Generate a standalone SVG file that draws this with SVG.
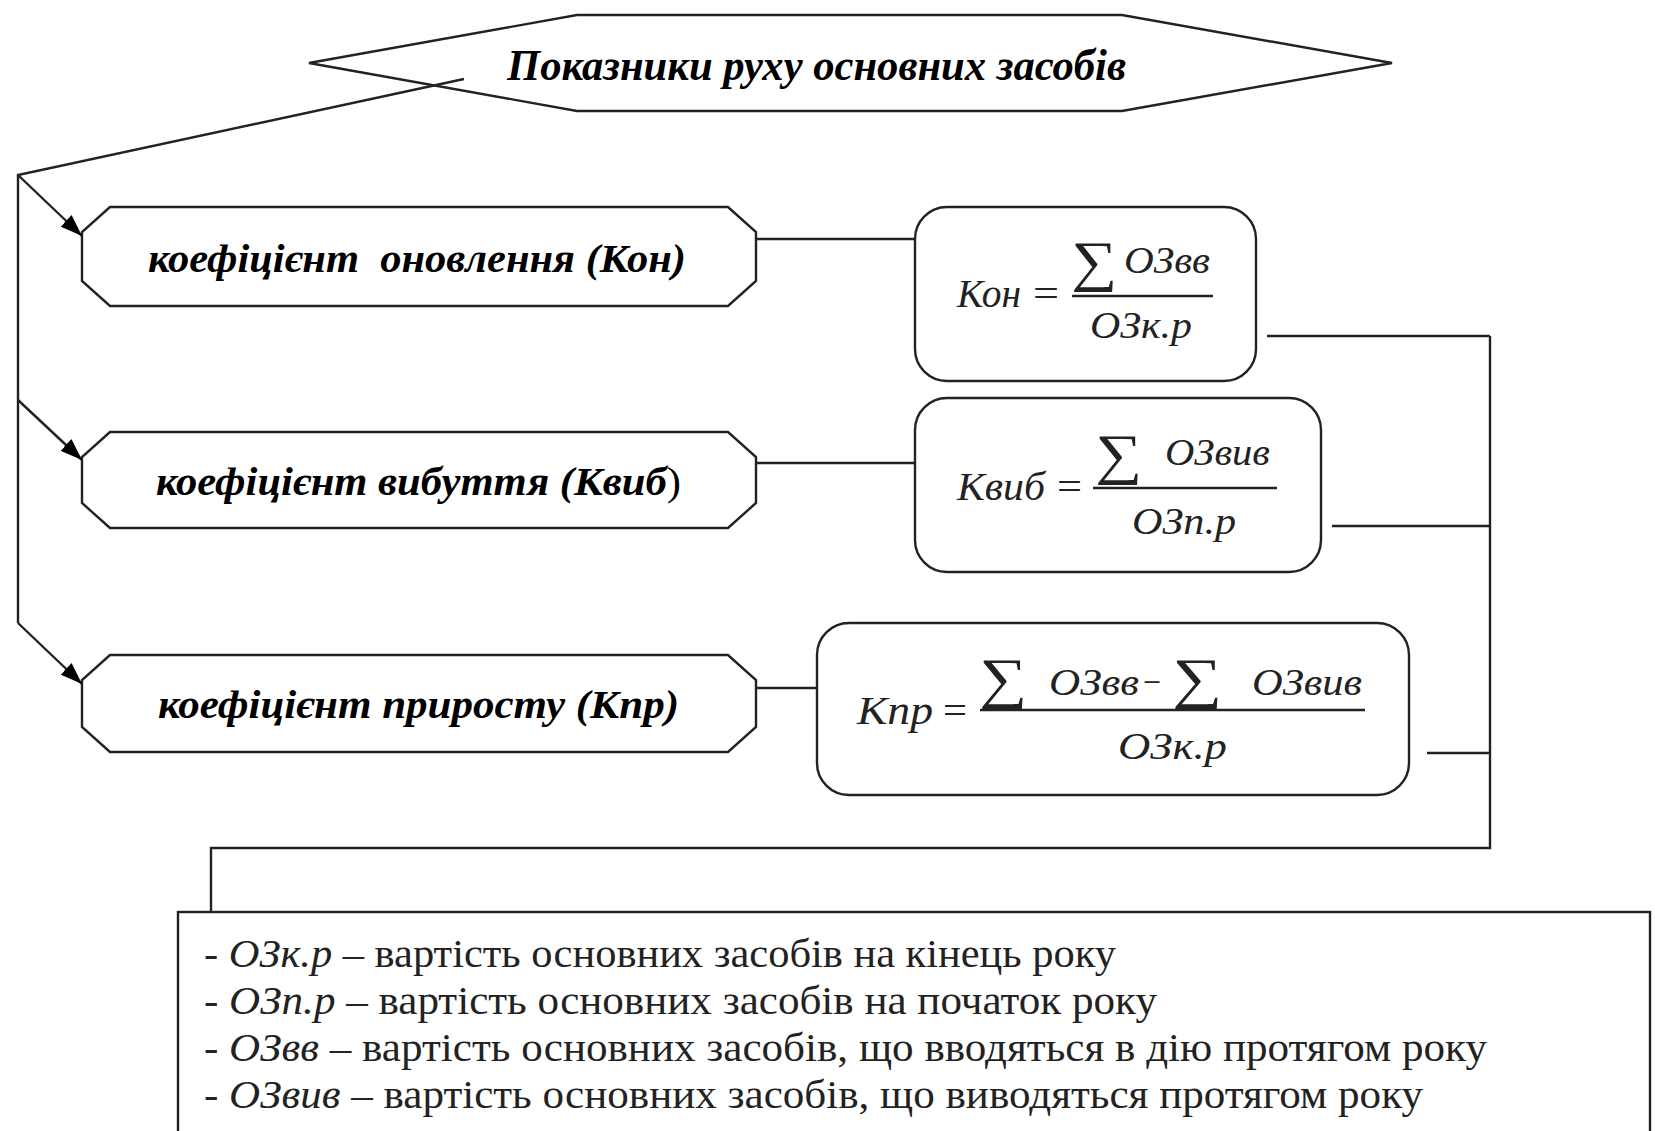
<svg xmlns="http://www.w3.org/2000/svg" width="1655" height="1131" viewBox="0 0 1655 1131">
<style>
.shape{fill:#fff;stroke:#222;stroke-width:2.4}
.line{fill:none;stroke:#222;stroke-width:2.4}
.bi{font-family:"Liberation Serif","Times New Roman",serif;font-weight:bold;font-style:italic;fill:#000}
.f{font-family:"Liberation Serif","Times New Roman",serif;font-style:italic;fill:#222}
.sym{font-family:"Liberation Serif","Times New Roman",serif;font-style:normal;fill:#222}
.leg{font-family:"Liberation Serif","Times New Roman",serif;font-size:39px;fill:#222}
.it{font-style:italic}
</style>
<defs>
<marker id="arr" markerUnits="userSpaceOnUse" markerWidth="24" markerHeight="16" refX="22" refY="8" orient="auto">
<path d="M0,0 L22,8 L0,16 z" fill="#000"/>
</marker>
</defs>
<rect width="1655" height="1131" fill="#fff"/>

<g id="title">
<polygon class="shape" points="309,63 577,15 1122,15 1392,63 1122,111 577,111"/>
<text class="bi" x="507" y="80" font-size="44" textLength="619" lengthAdjust="spacingAndGlyphs">Показники руху основних засобів</text>
</g>

<g id="k-on">
<polygon class="shape" points="110,207 728,207 756,232 756,281 728,306 110,306 82,281 82,232"/>
<text class="bi" x="148" y="272" font-size="40" textLength="538" lengthAdjust="spacingAndGlyphs" style="white-space:pre">коефіцієнт  оновлення (Кон)</text>
</g>

<g id="k-vyb">
<polygon class="shape" points="110,432 728,432 756,457 756,503 728,528 110,528 82,503 82,457"/>
<text class="bi" x="156" y="495" font-size="40" textLength="525" lengthAdjust="spacingAndGlyphs">коефіцієнт вибуття (Квиб<tspan font-weight="normal" font-style="normal">)</tspan></text>
</g>

<g id="k-pr">
<polygon class="shape" points="110,655 728,655 756,680 756,727 728,752 110,752 82,727 82,680"/>
<text class="bi" x="158" y="718" font-size="40" textLength="521" lengthAdjust="spacingAndGlyphs">коефіцієнт приросту (Кпр)</text>
</g>

<g id="f-on">
<rect class="shape" x="915" y="207" width="341" height="174" rx="32" ry="32"/>
<text class="f" x="957" y="307" font-size="40" textLength="64" lengthAdjust="spacingAndGlyphs">Кон</text>
<text class="sym" x="1033" y="307" font-size="40" textLength="26" lengthAdjust="spacingAndGlyphs">=</text>
<text class="sym" x="1071" y="280" font-size="56" textLength="46" lengthAdjust="spacingAndGlyphs">∑</text>
<text class="f" x="1124" y="273" font-size="38" textLength="86" lengthAdjust="spacingAndGlyphs">ОЗвв</text>
<line class="line" x1="1072" y1="296" x2="1213" y2="296"/>
<text class="f" x="1090" y="338" font-size="38" textLength="102" lengthAdjust="spacingAndGlyphs">ОЗк.р</text>
</g>

<g id="f-vyb">
<rect class="shape" x="915" y="398" width="406" height="174" rx="32" ry="32"/>
<text class="f" x="957" y="500" font-size="40" textLength="88" lengthAdjust="spacingAndGlyphs">Квиб</text>
<text class="sym" x="1057" y="500" font-size="40" textLength="25" lengthAdjust="spacingAndGlyphs">=</text>
<text class="sym" x="1095" y="473" font-size="56" textLength="47" lengthAdjust="spacingAndGlyphs">∑</text>
<text class="f" x="1165" y="465" font-size="38" textLength="105" lengthAdjust="spacingAndGlyphs">ОЗвив</text>
<line class="line" x1="1093" y1="488" x2="1277" y2="488"/>
<text class="f" x="1132" y="534" font-size="38" textLength="104" lengthAdjust="spacingAndGlyphs">ОЗп.р</text>
</g>

<g id="f-pr">
<rect class="shape" x="817" y="623" width="592" height="172" rx="32" ry="32"/>
<text class="f" x="857" y="724" font-size="40" textLength="76" lengthAdjust="spacingAndGlyphs">Кпр</text>
<text class="sym" x="943" y="724" font-size="40" textLength="24" lengthAdjust="spacingAndGlyphs">=</text>
<text class="sym" x="979" y="697" font-size="56" textLength="48" lengthAdjust="spacingAndGlyphs">∑</text>
<text class="f" x="1049" y="695" font-size="38" textLength="90" lengthAdjust="spacingAndGlyphs">ОЗвв</text>
<text class="sym" x="1143" y="695" font-size="38" textLength="18" lengthAdjust="spacingAndGlyphs">−</text>
<text class="sym" x="1172" y="697" font-size="56" textLength="50" lengthAdjust="spacingAndGlyphs">∑</text>
<text class="f" x="1252" y="695" font-size="38" textLength="110" lengthAdjust="spacingAndGlyphs">ОЗвив</text>
<line class="line" x1="980" y1="710" x2="1365" y2="710"/>
<text class="f" x="1118" y="759" font-size="38" textLength="109" lengthAdjust="spacingAndGlyphs">ОЗк.р</text>
</g>

<g id="legend">
<rect class="shape" x="178" y="912" width="1472" height="260"/>
<text class="leg" x="204" y="967" textLength="912" lengthAdjust="spacingAndGlyphs">- <tspan class="it">ОЗк.р</tspan> – вартість основних засобів на кінець року</text>
<text class="leg" x="204" y="1014" textLength="953" lengthAdjust="spacingAndGlyphs">- <tspan class="it">ОЗп.р</tspan> – вартість основних засобів на початок року</text>
<text class="leg" x="204" y="1061" textLength="1283" lengthAdjust="spacingAndGlyphs">- <tspan class="it">ОЗвв</tspan> – вартість основних засобів, що вводяться в дію протягом року</text>
<text class="leg" x="204" y="1108" textLength="1219" lengthAdjust="spacingAndGlyphs">- <tspan class="it">ОЗвив</tspan> – вартість основних засобів, що виводяться протягом року</text>
</g>

<g id="connectors">
<polyline class="line" points="464,79 18,175 18,623"/>
<line class="line" x1="18" y1="175" x2="82" y2="236" marker-end="url(#arr)"/>
<line class="line" x1="18" y1="400" x2="82" y2="460" marker-end="url(#arr)"/>
<line class="line" x1="18" y1="623" x2="82" y2="684" marker-end="url(#arr)"/>
<line class="line" x1="756" y1="239" x2="915" y2="239"/>
<line class="line" x1="756" y1="463" x2="915" y2="463"/>
<line class="line" x1="756" y1="688" x2="817" y2="688"/>
<line class="line" x1="1267" y1="336" x2="1490" y2="336"/>
<line class="line" x1="1332" y1="526" x2="1490" y2="526"/>
<line class="line" x1="1427" y1="753" x2="1490" y2="753"/>
<polyline class="line" points="1490,336 1490,848 211,848 211,912"/>
</g>
</svg>
